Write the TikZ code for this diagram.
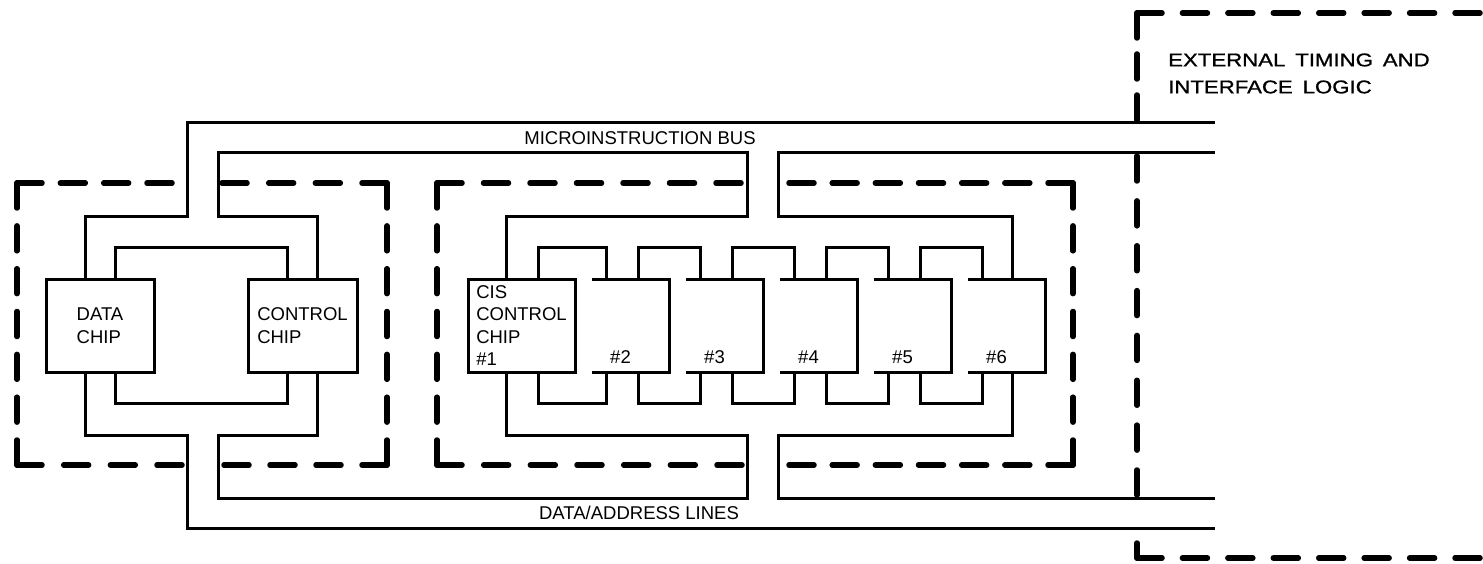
\documentclass[tikz,border=0pt]{standalone}
\usepackage{fontspec}
\setmainfont{Liberation Sans}
\newfontfamily\extfont[FakeStretch=1.2,WordSpace=1.6,FakeBold=1]{Liberation Sans}
\newcommand\fs{\fontsize{18.5}{22.5}\selectfont}
\newcommand\fsx{\fontsize{18.5}{27}\selectfont}
\tikzset{
  bus/.style={line width=3pt, line cap=butt, line join=miter},
  chip/.style={draw, line width=3pt, minimum width=#1, minimum height=93pt,
    inner sep=0pt, outer sep=0pt, align=left, font=\fs},
  slot/.style={minimum width=77pt, minimum height=93pt, inner sep=0pt, outer sep=0pt},
  txt/.style={font=\fs, inner sep=0pt},
  dbox/.style={line width=5.5pt, line cap=round, line join=round}
}
\newcommand\DSeg[4]{%
  \pgfmathsetmacro\dlen{veclen(#3-#1,#4-#2)}%
  \pgfmathsetmacro\dn{max(1,round((\dlen-25)/45))}%
  \pgfmathsetmacro\doff{(\dlen-25)/\dn-25}%
  \draw[dbox, dash pattern=on 25pt off \doff pt] (#1,#2) -- (#3,#4);%
}
\begin{document}
\begin{tikzpicture}[x=1pt,y=-1pt]
\useasboundingbox (0,0) rectangle (1483,564);

% chips
\node[chip=108pt] (dc) at (100,325.5) {DATA\\CHIP};
\node[chip=109pt] (cc) at (302.5,325.5) {CONTROL\\CHIP};
\node[chip=107pt] (c1) at (521.5,325.5) {CIS\\CONTROL\\CHIP\\\#1};
\foreach \i/\x in {2/630.5,3/724.5,4/818.5,5/912.5,6/1006.5} {
  \node[slot] (c\i) at (\x,325.5) {};
  \draw[bus] (c\i.north west) -- (c\i.north east) -- (c\i.south east) -- (c\i.south west);
  \node[txt] (t\i) at (\x-10,357) {\#\i};
}

% bus ends
\coordinate (mbo) at (1215,123);
\coordinate (mbi) at (1215,153);
\coordinate (dbi) at (1215,498);
\coordinate (dbo) at (1215,528);

% microinstruction bus
\draw[bus] ([xshift=-15]dc.north) |- (187,217) |- (mbo);
\draw[bus] ([xshift=14.5]cc.north) |- (218,217) |- (747,153) -- (747,217) -| ([xshift=-15.5]c1.north);
\draw[bus] (mbi) -| (778,217) -| ([xshift=5.5]c6.north);
% data/address lines
\draw[bus] ([xshift=-15]dc.south) |- (187,435) |- (dbo);
\draw[bus] ([xshift=14.5]cc.south) |- (218,435) |- (747,498) -- (747,435) -| ([xshift=-15.5]c1.south);
\draw[bus] (dbi) -| (778,435) -| ([xshift=5.5]c6.south);

% chip to chip loops
\draw[bus] ([xshift=15]dc.north) -- ++(0,-32) -| ([xshift=-15.5]cc.north);
\draw[bus] ([xshift=15]dc.south) -- ++(0,31) -| ([xshift=-15.5]cc.south);
\draw[bus] ([xshift=16.5]c1.north) -- ++(0,-32) -| ([xshift=-24]c2.north);
\draw[bus] ([xshift=16.5]c1.south) -- ++(0,31) -| ([xshift=-24]c2.south);
\foreach \a/\b in {2/3,3/4,4/5,5/6} {
  \draw[bus] ([xshift=7.5]c\a.north) -- ++(0,-32) -| ([xshift=-24.5]c\b.north);
  \draw[bus] ([xshift=7.5]c\a.south) -- ++(0,31) -| ([xshift=-24.5]c\b.south);
}

% labels
\node[txt] (mib) at (640,138) {MICROINSTRUCTION BUS};
\node[txt] (dal) at (639,513) {DATA/ADDRESS LINES};
\node[txt, anchor=west, align=left, font=\extfont\fsx] (ext) at (1168,73.5) {EXTERNAL TIMING AND\\INTERFACE LOGIC};

% dashed boxes: left
\DSeg{17}{183}{172}{183}
\DSeg{387}{183}{222}{183}
\DSeg{387}{183}{387}{465}
\DSeg{387}{465}{224}{465}
\DSeg{17}{465}{182}{465}
\DSeg{17}{183}{17}{465}
% middle
\DSeg{437}{183}{741}{183}
\DSeg{1073}{183}{789}{183}
\DSeg{1073}{183}{1073}{465}
\DSeg{1073}{465}{789}{465}
\DSeg{437}{465}{742}{465}
\DSeg{437}{183}{437}{465}
% external
\DSeg{1137}{13}{1480}{13}
\DSeg{1137}{13}{1137}{120}
\DSeg{1137}{156}{1137}{495}
\draw[dbox] (1137,543) -- (1137,558);
\DSeg{1137}{558}{1480}{558}
\end{tikzpicture}
\end{document}
